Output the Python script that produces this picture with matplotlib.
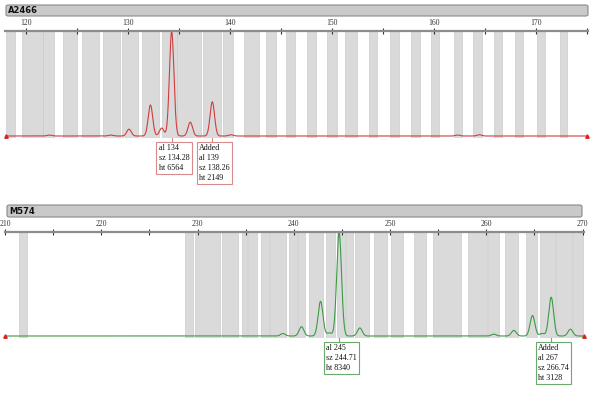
import numpy as np
import matplotlib
matplotlib.use("Agg")
import matplotlib.pyplot as plt
from matplotlib.patches import FancyBboxPatch
import matplotlib.transforms as mtransforms

# ---------------- data ----------------
top_label = "A2466"
top_xlim = (117.95, 175.07)
top_ticks = [120, 130, 140, 150, 160, 170]
top_bins_left = [118.05, 119.61, 121.66, 123.61, 125.46, 127.51, 129.37, 131.41, 133.37, 134.83,
                 137.37, 139.32, 141.37, 143.51, 145.46, 147.51, 149.46, 151.22, 153.66, 155.71,
                 157.76, 159.71, 161.95, 163.80, 165.85, 167.90, 170.05, 172.29]
top_bins_right = [118.93, 121.66, 122.73, 124.98, 127.12, 129.17, 131.02, 133.07, 134.83, 137.17,
                  139.12, 140.29, 142.83, 144.49, 146.34, 148.39, 150.44, 152.39, 154.44, 156.59,
                  158.63, 160.49, 162.73, 164.68, 166.63, 168.68, 170.83, 172.98]
top_peak_pos = [122.3, 128.3, 130.1, 132.2, 133.3, 134.28, 136.1, 138.26, 140.1, 162.3, 164.4]
top_peak_ht = [60, 60, 430, 1950, 500, 6564, 870, 2149, 80, 60, 80]
top_calls_x = [134.28, 138.26]
top_calls_text = ["al 134\nsz 134.28\nht 6564", "Added\nal 139\nsz 138.26\nht 2149"]

bot_label = "M574"
bot_xlim = (210.0, 270.15)
bot_ticks = [210, 220, 230, 240, 250, 260, 270]
bot_bins_left = [211.45, 228.69, 229.73, 232.53, 234.61, 235.23, 236.58, 237.52, 239.49, 240.43,
                 241.57, 243.33, 244.48, 245.41, 246.35, 248.32, 250.08, 252.47, 254.44, 258.08,
                 260.16, 261.92, 264.10, 265.56, 267.22, 268.98]
bot_bins_right = [212.28, 229.52, 232.33, 234.20, 235.13, 236.17, 237.41, 239.18, 240.32, 241.15,
                  243.02, 244.27, 245.31, 246.14, 247.80, 249.67, 251.33, 253.72, 257.35, 260.05,
                  261.30, 263.27, 265.24, 267.11, 268.88, 270.02]
bot_peak_pos = [238.87, 240.8, 242.78, 243.7, 244.71, 246.86, 260.78, 262.86, 264.8, 265.8, 266.74, 268.74]
bot_peak_ht = [200, 750, 2800, 250, 8340, 650, 150, 450, 1650, 200, 3128, 550]
bot_calls_x = [244.71, 266.74]
bot_calls_text = ["al 245\nsz 244.71\nht 8340", "Added\nal 267\nsz 266.74\nht 3128"]

# ---------------- figure ----------------
W, H = 591, 393
fig = plt.figure(figsize=(W / 100, H / 100), dpi=100)
fig.patch.set_facecolor("white")


def fx(px):
    return px / W


def fy(py):
    return 1 - py / H


def title_bar(x0, x1, y0, y1, label):
    bar = FancyBboxPatch((fx(x0), fy(y1)), fx(x1) - fx(x0), fy(y0) - fy(y1),
                         boxstyle="round,pad=0,rounding_size=0.004",
                         transform=fig.transFigure, facecolor="#c9c9c9",
                         edgecolor="#8a8a8a", linewidth=0.8)
    fig.patches.append(bar)
    fig.text(fx(x0 + 2), (fy(y0) + fy(y1)) / 2, label, fontsize=6, fontweight="bold",
             va="center", ha="left", color="#111111", family="Liberation Sans Narrow")


def panel(x0, x1, ytop, ybase, ybot, xlim, ticks, bl, br, ppos, pht, sigma, color,
          boxcolor, calls_x, calls_text):
    ax = fig.add_axes([fx(x0), fy(ybot), fx(x1) - fx(x0), fy(ytop) - fy(ybot)])
    hmax = max(pht)
    pp = hmax / (ybase - (ytop + 0.5))
    ax.set_ylim(-(ybot - ybase) * pp, hmax + 0.5 * pp)
    ax.set_xlim(*xlim)
    for l, r in zip(bl, br):
        ax.axvspan(l, r, ymin=0, ymax=1, facecolor="#dadada", edgecolor="#cbcbcb",
                   linewidth=0.5, zorder=1)
    xs = np.linspace(xlim[0], xlim[1], 4000)
    ys = np.zeros_like(xs)
    for p, h in zip(ppos, pht):
        ys += h * np.exp(-0.5 * ((xs - p) / sigma) ** 2)
    ax.plot(xs, ys, color=color, lw=0.8, zorder=3)
    ax.plot([xlim[0] + 0.05, xlim[1] - 0.05], [0, 0], ls="none", marker="^",
            ms=2.5, color="#dd2222", zorder=4, clip_on=False)
    # ruler
    for s in ["left", "right", "bottom"]:
        ax.spines[s].set_visible(False)
    ax.spines["top"].set_color("#8c8c8c")
    ax.spines["top"].set_linewidth(1.6)
    ax.spines["top"].set_zorder(5)
    ax.xaxis.tick_top()
    ax.set_xticks(ticks)
    ax.set_xticks([t + 5 for t in ticks if t + 5 < xlim[1]], minor=True)
    ax.tick_params(axis="x", which="major", direction="inout", length=4, width=0.8,
                   color="#333333", labelsize=5.5, labelcolor="#333333", pad=1)
    ax.tick_params(axis="x", which="minor", direction="inout", length=4, width=0.8,
                   color="#333333")
    for lab in ax.get_xticklabels():
        lab.set_family("Liberation Serif")
    ax.set_yticks([])
    ax.patch.set_alpha(0)
    # allele call boxes
    trans = mtransforms.blended_transform_factory(ax.transData, ax.transAxes)
    for cx, txt in zip(calls_x, calls_text):
        ax.plot([cx, cx], [0.0, -0.04], transform=trans, color=boxcolor, lw=0.8,
                clip_on=False, zorder=4)
        ax.annotate(txt, xy=(cx, -0.04), xycoords=trans, xytext=(-13, -2),
                    textcoords="offset pixels", ha="left", va="top", fontsize=5.8,
                    family="Liberation Serif", linespacing=1.3, color="#111111",
                    bbox=dict(boxstyle="square,pad=0.3", facecolor="white",
                              edgecolor=boxcolor, linewidth=0.8),
                    annotation_clip=False)
    return ax


title_bar(6, 588, 5, 16, top_label)
panel(5, 588, 31, 136, 138, top_xlim, top_ticks, top_bins_left, top_bins_right,
      top_peak_pos, top_peak_ht, 0.22, "#d23c3c", "#d98a8a", top_calls_x, top_calls_text)

title_bar(7, 582, 205, 217, bot_label)
panel(5, 584, 232, 336, 338, bot_xlim, bot_ticks, bot_bins_left, bot_bins_right,
      bot_peak_pos, bot_peak_ht, 0.25, "#3c9a46", "#6aaa6a", bot_calls_x, bot_calls_text)

fig.savefig("out.png", dpi=100)
